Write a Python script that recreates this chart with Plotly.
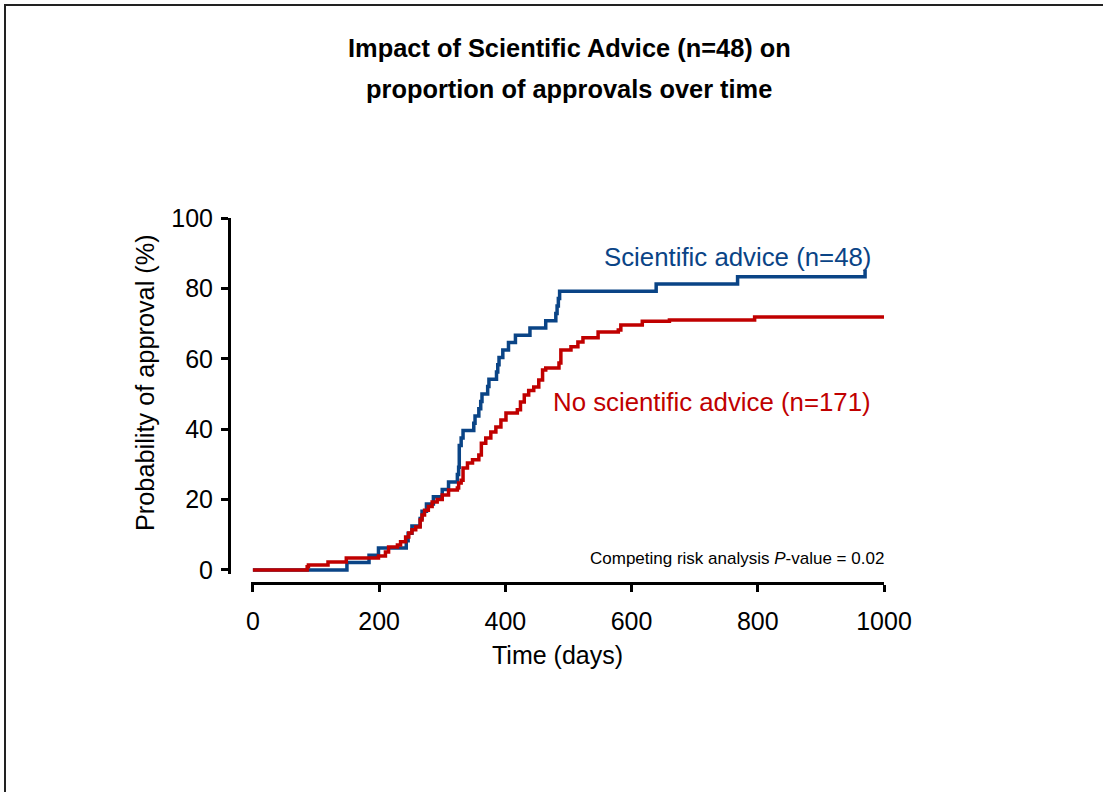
import plotly.graph_objects as go

# ---------------- data ----------------
blue_days = [0, 149, 184, 199, 243, 246, 252, 265, 268, 275, 286, 300, 310, 324, 326, 327,
             330, 333, 350, 352, 358, 361, 363, 372, 374, 386, 388, 390, 396, 405, 416,
             439, 464, 480, 482, 484, 486, 639, 768, 970]
blue_pct = [0, 2.1, 4.2, 6.25, 8.3, 10.4, 12.5, 14.6, 16.7, 18.75, 20.8, 22.9, 25.0, 27.1, 29.2, 35.4,
            37.5, 39.6, 41.7, 43.75, 45.8, 47.9, 50.0, 52.1, 54.2, 56.25, 58.3, 60.4, 62.5, 64.6, 66.7,
            68.75, 70.8, 72.9, 75.0, 77.1, 79.2, 81.25, 83.3, 85.4]

red_days = [0, 86, 88, 119, 148, 199, 210, 215, 229, 234, 242, 247, 252, 258, 265, 268, 272,
            278, 284, 292, 300, 310, 324, 326, 330, 333, 340, 348, 358, 362, 369, 377, 385,
            393, 401, 419, 424, 430, 437, 445, 453, 459, 464, 485, 488, 504, 515, 523, 547,
            579, 583, 617, 660, 795, 1000]
red_pct = [0, 0.9, 1.4, 2.3, 3.4, 4.0, 5.1, 6.5, 7.1, 8.0, 9.4, 10.5, 11.4, 12.2, 14.2, 15.6, 17.0,
           18.0, 19.3, 20.0, 21.3, 22.7, 23.3, 24.7, 25.5, 29.0, 30.4, 31.3, 32.7, 36.0, 37.5, 39.2, 40.6,
           42.6, 44.6, 45.5, 47.7, 49.7, 51.0, 52.0, 54.0, 56.8, 57.4, 58.8, 62.5, 63.4, 64.8, 66.0, 67.6,
           68.2, 69.6, 70.7, 71.0, 71.9, 71.9]

x_ticks = [0, 200, 400, 600, 800, 1000]
y_ticks = [0, 20, 40, 60, 80, 100]

title_lines = ["Impact of Scientific Advice (n=48) on", "proportion of approvals over time"]
blue_label = "Scientific advice (n=48)"
red_label = "No scientific advice (n=171)"
x_title = "Time (days)"
y_title = "Probability of approval (%)"
p_text = "Competing risk analysis <i>P</i>-value = 0.02"

BLUE = "#0A4486"
RED = "#C00000"
FONT = "Arial, Liberation Sans, sans-serif"

# ---------------- layout geometry (pixels) ----------------
W, H = 1103, 792
L, R, T, B = 229, 884, 218, 583          # plot area (axis lines at left/bottom)


def px_x(px):
    return (px - L) / (R - L)


def px_y(py):
    return (B - py) / (B - T)


fig = go.Figure()
fig.add_trace(go.Scatter(x=blue_days, y=blue_pct, mode="lines",
                         line=dict(shape="hv", color=BLUE, width=3.5), showlegend=False))
fig.add_trace(go.Scatter(x=red_days, y=red_pct, mode="lines",
                         line=dict(shape="hv", color=RED, width=3.5), showlegend=False))

axis_common = dict(showgrid=False, zeroline=False, showline=True, linecolor="black",
                   linewidth=3, ticks="outside", ticklen=7, tickwidth=3, tickcolor="black",
                   tickfont=dict(family=FONT, size=25, color="black"))

fig.update_layout(
    width=W, height=H,
    margin=dict(l=L, r=W - R, t=T, b=H - B, pad=0),
    paper_bgcolor="white", plot_bgcolor="white",
    xaxis=dict(range=[-3, 1000], domain=[px_x(251), 1], anchor="free", position=0,
               tickvals=x_ticks, ticklabelstandoff=8, **axis_common),
    yaxis=dict(range=[-1, 100], domain=[px_y(573.5), 1], anchor="free", position=0,
               tickvals=y_ticks, ticklabelstandoff=3, **axis_common),
)

ann = [
    dict(text="<b>" + title_lines[0] + "</b>", x=px_x(569), y=px_y(48), font=dict(size=25.4)),
    dict(text="<b>" + title_lines[1] + "</b>", x=px_x(569), y=px_y(89), font=dict(size=25.4)),
    dict(text=x_title, x=px_x(557), y=px_y(655), font=dict(size=25)),
    dict(text=y_title, x=px_x(145), y=px_y(383), font=dict(size=25.3), textangle=-90),
    dict(text=blue_label, x=px_x(873), y=px_y(257), xanchor="right", font=dict(size=25.8, color=BLUE)),
    dict(text=red_label, x=px_x(873), y=px_y(402), xanchor="right", font=dict(size=25.8, color=RED)),
    dict(text=p_text, x=px_x(886), y=px_y(558), xanchor="right", font=dict(size=17)),
]
for a in ann:
    a.setdefault("xanchor", "center")
    a.update(xref="paper", yref="paper", yanchor="middle", showarrow=False)
    f = a["font"]
    f.setdefault("color", "black")
    f["family"] = FONT
    fig.add_annotation(**a)

# outer frame
fig.add_shape(type="rect", xref="paper", yref="paper",
              x0=px_x(5), x1=px_x(W + 20), y0=px_y(H + 20), y1=px_y(5),
              line=dict(color="#222222", width=2), fillcolor="rgba(0,0,0,0)", layer="above")

fig.write_html("out.html")
